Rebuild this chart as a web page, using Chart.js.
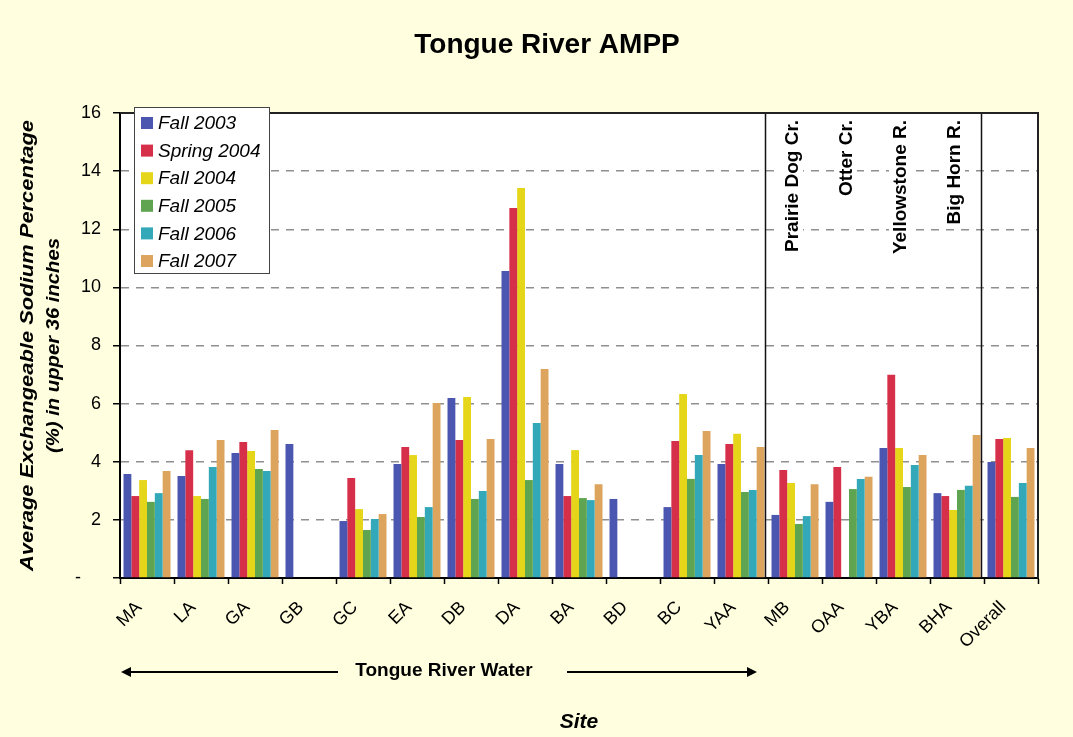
<!DOCTYPE html>
<html>
<head>
<meta charset="utf-8">
<title>Tongue River AMPP</title>
<script src="https://cdn.jsdelivr.net/npm/chart.js@4.4.1/dist/chart.umd.min.js"></script>
<style>
  html, body { margin: 0; padding: 0; background: #FFFFDF; }
  #chart { display: block; }
</style>
</head>
<body>
<canvas id="chart" width="1073" height="737"></canvas>
<script>
// sites along the x axis
const sites = ['MA', 'LA', 'GA', 'GB', 'GC', 'EA', 'DB', 'DA', 'BA', 'BD', 'BC', 'YAA', 'MB', 'OAA', 'YBA', 'BHA', 'Overall'];

// average ESP (%) in upper 36 inches
const fall2003   = [3.58, 3.51, 4.30, 4.61, 1.96, 3.92, 6.19, 10.56, 3.92, 2.72, 2.44, 3.92, 2.17, 2.62, 4.47, 2.92, 3.99];
const spring2004 = [2.82, 4.40, 4.68, null, 3.44, 4.51, 4.75, 12.73, 2.82, null, 4.71, 4.61, 3.72, 3.82, 6.99, 2.82, 4.78];
const fall2004   = [3.37, 2.82, 4.37, null, 2.37, 4.23, 6.23, 13.42, 4.40, null, 6.33, 4.96, 3.27, null, 4.47, 2.34, 4.82];
const fall2005   = [2.62, 2.72, 3.75, null, 1.65, 2.10, 2.72, 3.37, 2.75, null, 3.41, 2.96, 1.86, 3.06, 3.13, 3.03, 2.79];
const fall2006   = [2.92, 3.82, 3.68, null, 2.03, 2.44, 2.99, 5.33, 2.68, null, 4.23, 3.03, 2.13, 3.41, 3.89, 3.17, 3.27];
const fall2007   = [3.68, 4.75, 5.09, null, 2.20, 6.02, 4.78, 7.19, 3.23, null, 5.06, 4.51, 3.23, 3.48, 4.23, 4.92, 4.47];

const seriesLabels = ['Fall 2003', 'Spring 2004', 'Fall 2004', 'Fall 2005', 'Fall 2006', 'Fall 2007'];
const seriesColors = ['#4B56B0', '#D62F4A', '#E6D61A', '#5EA451', '#32A8B9', '#DDA45D'];

// tributary labels written over the MB..BHA columns
const riverLabels = ['Prairie Dog Cr.', 'Otter Cr.', 'Yellowstone R.', 'Big Horn R.'];
const riverSites = ['MB', 'OAA', 'YBA', 'BHA'];

const yTicks = [0, 2, 4, 6, 8, 10, 12, 14, 16];

const FONT = "'Liberation Sans', Arial, sans-serif";

// white plot area behind grid and bars
const plotBgPlugin = {
    id: 'plotBg',
    beforeDraw(chart) {
        const { ctx, chartArea: a } = chart;
        ctx.save();
        ctx.fillStyle = '#fff';
        ctx.fillRect(a.left, a.top, a.right - a.left, a.bottom - a.top);
        ctx.restore();
    }
};

// Draws titles, legend box, group separators and the "Tongue River Water" arrow
const extrasPlugin = {
    id: 'extras',
    afterDraw(chart) {
        const { ctx, chartArea: a, scales: { x } } = chart;
        const catW = x.getPixelForValue(1) - x.getPixelForValue(0);
        ctx.save();

        // river labels (white box under the text hides the dashed grid)
        ctx.font = 'bold 19px ' + FONT;
        riverLabels.forEach((lbl, i) => {
            const cx = x.getPixelForValue(sites.indexOf(riverSites[i])) - 3;
            const w = ctx.measureText(lbl).width;
            ctx.fillStyle = '#fff';
            ctx.fillRect(cx - 11, a.top + 5, 22, w + 4);
            ctx.save();
            ctx.translate(cx, a.top + 7);
            ctx.rotate(-Math.PI / 2);
            ctx.fillStyle = '#000';
            ctx.textAlign = 'right';
            ctx.textBaseline = 'middle';
            ctx.fillText(lbl, 0, 1);
            ctx.restore();
        });

        // separators before MB and before Overall
        ctx.strokeStyle = '#111';
        ctx.lineWidth = 1.5;
        [sites.indexOf('MB'), sites.indexOf('Overall')].forEach(i => {
            const px = Math.round(x.getPixelForValue(i) - catW / 2) - 2.5;
            ctx.beginPath();
            ctx.moveTo(px, a.top);
            ctx.lineTo(px, a.bottom);
            ctx.stroke();
        });

        // plot area frame (top and right)
        ctx.strokeStyle = '#222';
        ctx.lineWidth = 2;
        ctx.beginPath();
        ctx.moveTo(a.left, a.top);
        ctx.lineTo(a.right, a.top);
        ctx.lineTo(a.right, a.bottom);
        ctx.stroke();

        // legend
        const lx = 134, ly = 107, lw = 135, lh = 166;
        ctx.fillStyle = '#fff';
        ctx.fillRect(lx, ly, lw, lh);
        ctx.strokeStyle = '#444';
        ctx.lineWidth = 1;
        ctx.strokeRect(lx + 0.5, ly + 0.5, lw, lh);
        ctx.font = 'italic 19px ' + FONT;
        ctx.textBaseline = 'middle';
        ctx.textAlign = 'left';
        chart.data.datasets.forEach((ds, i) => {
            const cy = ly + 16 + i * 27.6;
            ctx.fillStyle = ds.backgroundColor;
            ctx.fillRect(lx + 7, cy - 6, 12, 12);
            ctx.fillStyle = '#000';
            ctx.fillText(ds.label, lx + 24, cy + 1);
        });

        // chart title
        ctx.fillStyle = '#000';
        ctx.textAlign = 'center';
        ctx.textBaseline = 'alphabetic';
        ctx.font = 'bold 28px ' + FONT;
        ctx.fillText('Tongue River AMPP', 547, 53);

        // y axis title, two lines, stretched to the original length
        ctx.font = 'bold italic 19px ' + FONT;
        const yLines = [['Average Exchangeable Sodium Percentage', 451, 28], ['(%) in upper 36 inches', 215, 54]];
        const midY = (a.top + a.bottom) / 2;
        yLines.forEach(([txt, len, cx]) => {
            const w = ctx.measureText(txt).width;
            ctx.save();
            ctx.translate(cx, midY);
            ctx.rotate(-Math.PI / 2);
            ctx.scale(len / w, 1);
            ctx.textBaseline = 'middle';
            ctx.fillText(txt, 0, 0);
            ctx.restore();
        });

        // x axis title
        ctx.font = 'bold italic 21px ' + FONT;
        ctx.fillText('Site', 579, 728);

        // Tongue River Water arrow
        const ay = 672;
        ctx.font = 'bold 19px ' + FONT;
        ctx.textBaseline = 'alphabetic';
        ctx.fillText('Tongue River Water', 444, 676);
        ctx.strokeStyle = '#000';
        ctx.lineWidth = 2;
        ctx.beginPath();
        ctx.moveTo(128, ay); ctx.lineTo(338, ay);
        ctx.moveTo(567, ay); ctx.lineTo(750, ay);
        ctx.stroke();
        ctx.fillStyle = '#000';
        ctx.beginPath();
        ctx.moveTo(121, ay); ctx.lineTo(131, ay - 5); ctx.lineTo(131, ay + 5); ctx.closePath();
        ctx.fill();
        ctx.beginPath();
        ctx.moveTo(757, ay); ctx.lineTo(747, ay - 5); ctx.lineTo(747, ay + 5); ctx.closePath();
        ctx.fill();

        ctx.restore();
    }
};

const seriesData = [fall2003, spring2004, fall2004, fall2005, fall2006, fall2007];

new Chart(document.getElementById('chart').getContext('2d'), {
    type: 'bar',
    data: {
        labels: sites,
        datasets: seriesData.map((d, i) => ({
            label: seriesLabels[i],
            data: d,
            backgroundColor: seriesColors[i],
            borderWidth: 0,
            barPercentage: 1.0,
            categoryPercentage: 0.87
        }))
    },
    options: {
        responsive: false,
        animation: false,
        layout: { padding: { top: 113, right: 35, left: 0, bottom: 0 } },
        plugins: {
            legend: { display: false },
            title: { display: false },
            tooltip: { enabled: false }
        },
        scales: {
            x: {
                afterFit: (s) => { s.height = 159; },
                grid: { offset: true, drawOnChartArea: false, tickLength: 6, tickColor: '#000', tickWidth: 1.5 },
                border: { color: '#000', width: 2 },
                ticks: {
                    color: '#000',
                    font: { family: FONT, size: 18 },
                    maxRotation: 45,
                    minRotation: 45,
                    padding: 13,
                    labelOffset: -8
                }
            },
            y: {
                min: 0,
                max: 16,
                afterFit: (s) => { s.width = 120; },
                afterBuildTicks: (s) => { s.ticks = yTicks.map(v => ({ value: v })); },
                grid: { color: '#8F8F8F', lineWidth: 1.5, tickLength: 7, tickColor: '#000', tickWidth: 1.5 },
                border: { color: '#000', width: 2, dash: [8, 7] },
                ticks: {
                    color: '#000',
                    font: { family: FONT, size: 18 },
                    padding: 12,
                    // Excel-style accounting zero: a dash set in from the right
                    callback: (v) => (v === 0 ? '-    ' : v)
                }
            }
        }
    },
    plugins: [plotBgPlugin, extrasPlugin]
});
</script>
</body>
</html>
